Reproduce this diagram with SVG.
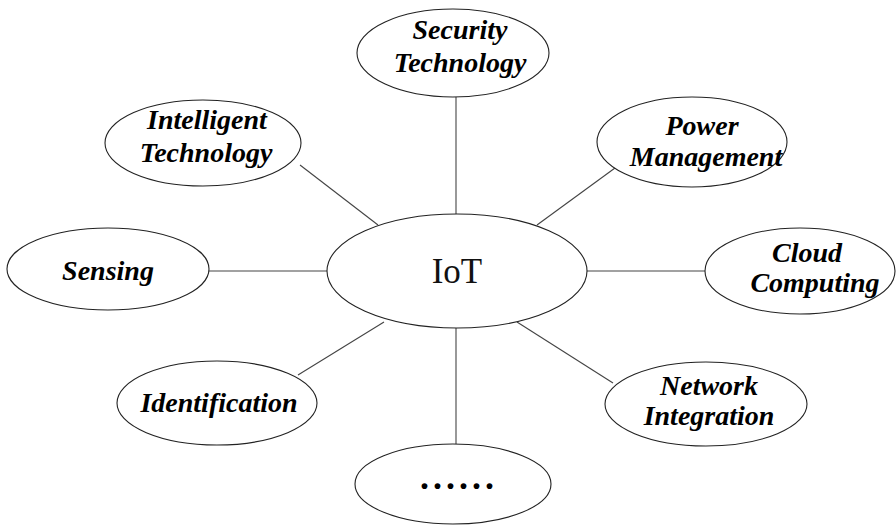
<svg xmlns="http://www.w3.org/2000/svg" width="896" height="528" viewBox="0 0 896 528">
<style>
.n{fill:#fff;stroke:#222;stroke-width:1.1}
.e{stroke:#444;stroke-width:1.1;fill:none}
.t{font-family:"Liberation Serif","Times New Roman",serif;font-weight:bold;font-style:italic;font-size:28px;fill:#000;text-anchor:middle}
.c{font-family:"Liberation Serif","Times New Roman",serif;font-size:35px;fill:#111;text-anchor:middle}
.d{font-family:"Liberation Serif","Times New Roman",serif;font-weight:bold;font-size:36px;fill:#000;text-anchor:middle;letter-spacing:4px}
</style>
<rect width="896" height="528" fill="#fff"/>
<g id="edges">
<line class="e" x1="456" y1="97" x2="456" y2="214"/>
<line class="e" x1="537" y1="225" x2="615" y2="168"/>
<line class="e" x1="300" y1="165" x2="378" y2="225"/>
<line class="e" x1="208" y1="271" x2="327" y2="271"/>
<line class="e" x1="587" y1="271" x2="705" y2="271"/>
<line class="e" x1="298" y1="375" x2="384" y2="322"/>
<line class="e" x1="517" y1="322" x2="613" y2="383"/>
<line class="e" x1="456" y1="328" x2="456" y2="444"/>
</g>
<g id="iot"><ellipse class="n" cx="457" cy="271" rx="130" ry="57"/><text class="c" x="457" y="283">IoT</text></g>
<g id="security"><ellipse class="n" cx="453" cy="53" rx="96" ry="44"/><text class="t" x="460" y="39">Security</text><text class="t" x="460" y="72">Technology</text></g>
<g id="power"><ellipse class="n" cx="692" cy="142" rx="95" ry="45"/><text class="t" x="702" y="135">Power</text><text class="t" x="706" y="166">Management</text></g>
<g id="intelligent"><ellipse class="n" cx="203" cy="143" rx="98" ry="43"/><text class="t" x="207" y="129">Intelligent</text><text class="t" x="206" y="162">Technology</text></g>
<g id="sensing"><ellipse class="n" cx="108" cy="269" rx="101" ry="41"/><text class="t" x="108" y="280">Sensing</text></g>
<g id="cloud"><ellipse class="n" cx="800" cy="271" rx="95" ry="43"/><text class="t" x="807" y="262">Cloud</text><text class="t" x="815" y="292">Computing</text></g>
<g id="identification"><ellipse class="n" cx="217" cy="403" rx="100" ry="42"/><text class="t" x="219" y="412">Identification</text></g>
<g id="network"><ellipse class="n" cx="706" cy="404" rx="101" ry="42"/><text class="t" x="709" y="395">Network</text><text class="t" x="709" y="425">Integration</text></g>
<g id="more"><ellipse class="n" cx="453" cy="484" rx="98" ry="40"/><text class="d" x="459" y="489">......</text></g>
</svg>
